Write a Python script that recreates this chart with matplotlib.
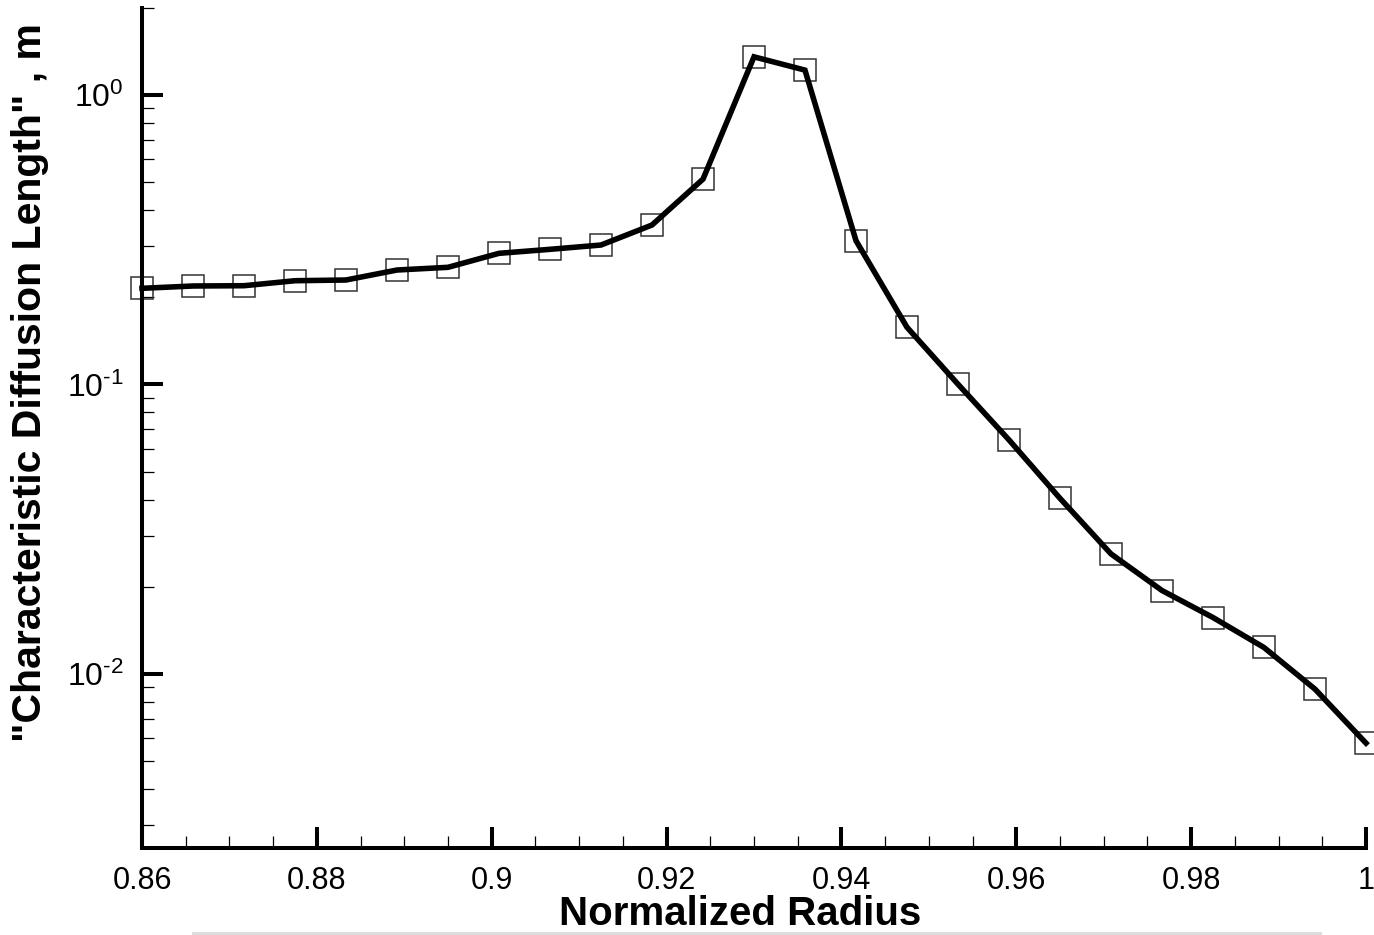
import matplotlib
matplotlib.use("Agg")
import matplotlib.pyplot as plt
from matplotlib.ticker import FixedLocator, LogLocator, NullFormatter, FixedFormatter
from matplotlib.lines import Line2D

plt.rcParams['font.family'] = ['Liberation Sans', 'DejaVu Sans']
plt.rcParams['mathtext.fontset'] = 'custom'
plt.rcParams['mathtext.rm'] = 'Liberation Sans'
plt.rcParams['mathtext.it'] = 'Liberation Sans'
plt.rcParams['mathtext.bf'] = 'Liberation Sans:bold'
plt.rcParams['mathtext.default'] = 'regular'

# Data
radius = [0.86, 0.86583, 0.87167, 0.8775, 0.88333, 0.88917, 0.895, 0.90083,
          0.90667, 0.9125, 0.91833, 0.92417, 0.93, 0.93583, 0.94167, 0.9475,
          0.95333, 0.95917, 0.965, 0.97083, 0.97667, 0.9825, 0.98833, 0.99417, 1.0]
diff_len = [0.2149, 0.2189, 0.2194, 0.2283, 0.2296, 0.2486, 0.2540, 0.2839,
            0.2931, 0.3033, 0.3556, 0.5126, 1.356, 1.220, 0.3138, 0.1576,
            0.1002, 0.0643, 0.0404, 0.02597, 0.01940, 0.01565, 0.01233, 0.00885, 0.00576]

x_major = [0.86, 0.88, 0.9, 0.92, 0.94, 0.96, 0.98, 1.0]
x_labels = ['0.86', '0.88', '0.9', '0.92', '0.94', '0.96', '0.98', '1']
y_major = [0.01, 0.1, 1.0]
y_labels = [r'$10^{\text{-}2}$', r'$10^{\text{-}1}$', r'$10^{0}$']

W, H = 1374, 935
fig = plt.figure(figsize=(W / 100, H / 100), dpi=100)
ax = fig.add_axes([142 / W, 1 - 848 / H, (1366 - 142) / W, (848 - 8) / H])

ax.plot(radius, diff_len, color='black', lw=4.0, zorder=3, clip_on=False,
        solid_joinstyle='miter')
ax.plot(radius, diff_len, linestyle='none', marker='s', ms=16.5, mfc='none',
        mec='#333333', mew=1.1, zorder=2, clip_on=False)

ax.set_yscale('log')
ax.set_xlim(0.86, 1.0)
ax.set_ylim(0.0025, 2.0)

for s in ['top', 'right']:
    ax.spines[s].set_visible(False)
for s in ['left', 'bottom']:
    ax.spines[s].set_linewidth(2.9)

ax.xaxis.set_major_locator(FixedLocator(x_major))
ax.xaxis.set_major_formatter(FixedFormatter(x_labels))
ax.xaxis.set_minor_locator(FixedLocator([0.86 + 0.005 * i for i in range(29)]))
ax.yaxis.set_major_locator(FixedLocator(y_major))
ax.yaxis.set_major_formatter(FixedFormatter(y_labels))
ax.yaxis.set_minor_locator(LogLocator(base=10, subs=range(2, 10), numticks=20))
ax.yaxis.set_minor_formatter(NullFormatter())

ax.tick_params(which='major', direction='in', length=15, width=2.9,
               labelsize=22, pad=13, top=False, right=False)
ax.tick_params(which='minor', direction='in', length=8.5, width=0.9,
               top=False, right=False)
ax.tick_params(axis='y', which='major', pad=13, labelsize=23)

fig.text(30 / W, 1 - 383 / H, '"Characteristic Diffusion Length" , m',
         rotation=90, ha='center', va='center', fontsize=29.5, fontweight='bold')
fig.text(740 / W, 1 - 914 / H, 'Normalized Radius', ha='center', va='center',
         fontsize=29, fontweight='bold')

fig.add_artist(Line2D([193 / W, 1320 / W], [1 - 933 / H, 1 - 933 / H],
                      transform=fig.transFigure, color='#dddddd', lw=2.2))

fig.savefig('out.png', dpi=100)
